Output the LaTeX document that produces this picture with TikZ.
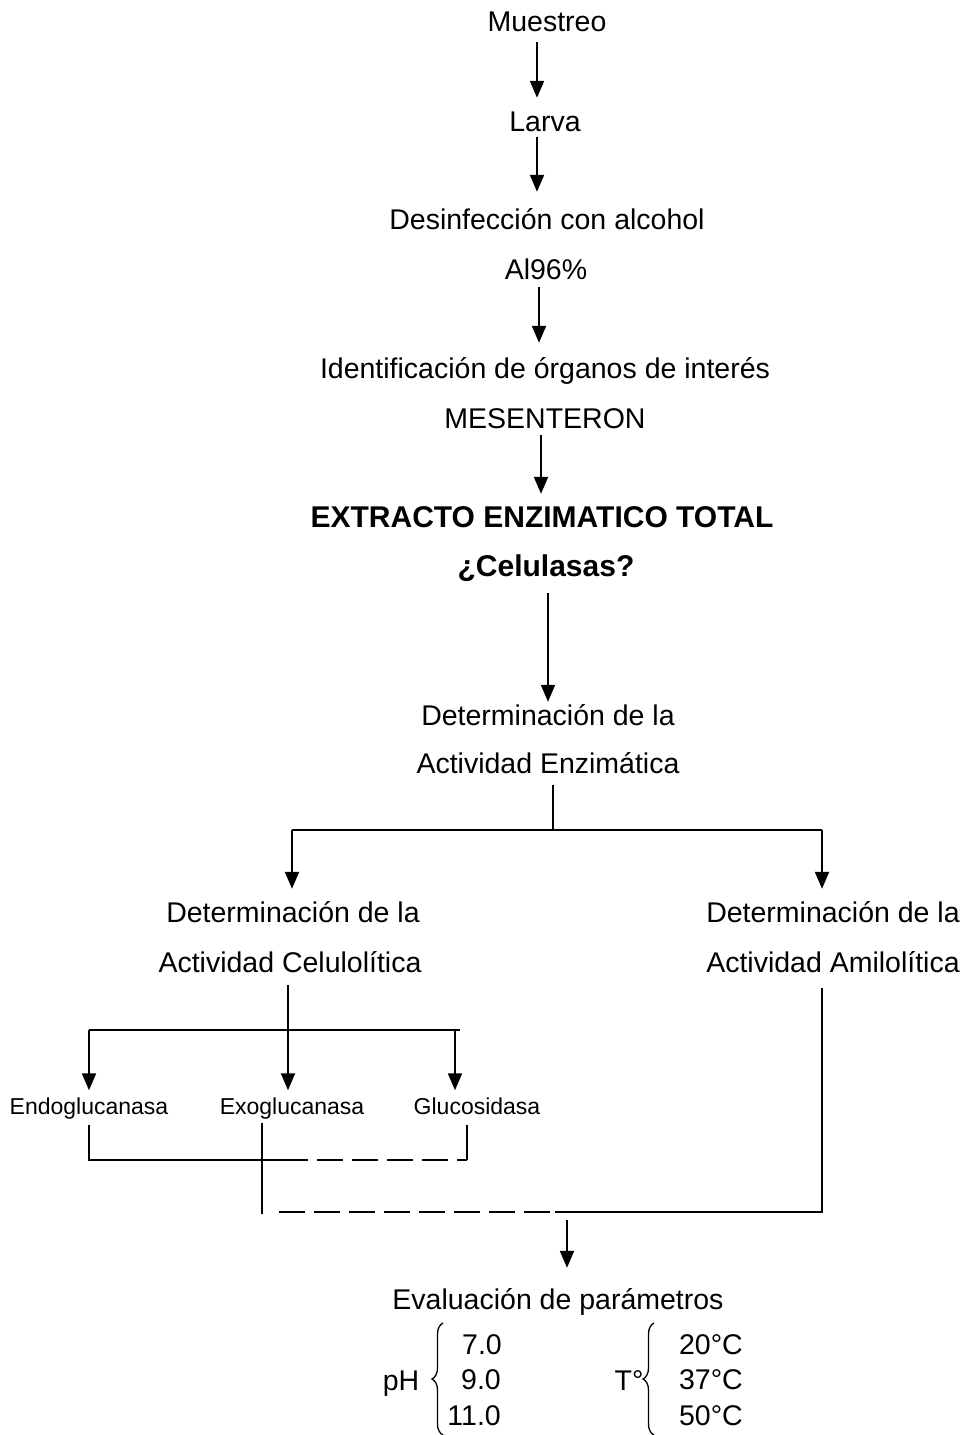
\documentclass[tikz,border=0pt]{standalone}
\usepackage{fontspec}
\setmainfont{Liberation Sans}
\usetikzlibrary{arrows.meta,decorations.pathreplacing}
\begin{document}
\begin{tikzpicture}[x=1pt,y=-1pt,
  lbl/.style={inner sep=0pt,text height=20pt,text depth=0pt,font=\fontsize{28.5}{31}\selectfont},
  bld/.style={lbl,font=\fontsize{30}{33}\selectfont\bfseries},
  sml/.style={inner sep=0pt,text height=15pt,text depth=0pt,font=\fontsize{23}{26}\selectfont},
  ln/.style={line width=2pt},
  arr/.style={ln,-{Triangle[length=17pt,width=14pt]}},
  dsh/.style={ln,dash pattern=on 26pt off 9pt},
  brc/.style={line width=1.3pt,decorate,decoration={brace,amplitude=11pt}}]
\path[use as bounding box] (0,0) rectangle (967,1435);

\node[lbl] (m) at (547,21) {Muestreo};
\node[lbl] (l) at (545,121) {Larva};
\node[lbl] (d) at (547,219) {Desinfección con alcohol};
\node[lbl] (a) at (546,269) {Al96\%};
\node[lbl] (i) at (545,368) {Identificación de órganos de interés};
\node[lbl] (me) at (545,418) {MESENTERON};
\node[bld] (e) at (542,517) {EXTRACTO ENZIMATICO TOTAL};
\node[bld] (c) at (546,566) {¿Celulasas?};
\node[lbl] (de1) at (548,715) {Determinación de la};
\node[lbl] (de2) at (548,763) {Actividad Enzimática};
\node[lbl] (dl1) at (293,912) {Determinación de la};
\node[lbl] (dl2) at (290,962) {Actividad Celulolítica};
\node[lbl] (dr1) at (833,912) {Determinación de la};
\node[lbl] (dr2) at (833,962) {Actividad Amilolítica};
\node[sml] (en) at (89,1107) {Endoglucanasa};
\node[sml] (ex) at (292,1107) {Exoglucanasa};
\node[sml] (gl) at (477,1107) {Glucosidasa};
\node[lbl] (ev) at (558,1299) {Evaluación de parámetros};
\node[lbl] (ph) at (401,1380) {pH};
\node[lbl,anchor=east] (p1) at (502,1344) {7.0};
\node[lbl,anchor=east] (p2) at (501,1379) {9.0};
\node[lbl,anchor=east] (p3) at (501,1415) {11.0};
\node[lbl] (t) at (629,1380) {T°};
\node[lbl,anchor=east] (t1) at (743,1344) {20°C};
\node[lbl,anchor=east] (t2) at (743,1379) {37°C};
\node[lbl,anchor=east] (t3) at (743,1415) {50°C};

% main chain
\draw[arr,shorten <=11pt,shorten >=13pt] (537,0 |- m.south) -- (537,0 |- l.north);
\draw[arr,shorten <=6pt,shorten >=17pt] (537,0 |- l.south) -- (537,0 |- d.north);
\draw[arr,shorten <=8pt,shorten >=15pt] (539,0 |- a.south) -- (539,0 |- i.north);
\draw[arr,shorten <=7pt,shorten >=13pt] (541,0 |- me.south) -- (541,0 |- e.north);
\draw[arr,shorten <=17pt,shorten >=3pt] (548,0 |- c.south) -- (548,0 |- de1.north);

% split 1
\coordinate (s0) at (553,830);
\coordinate (sl) at (292,830);
\coordinate (sr) at (822,830);
\draw[ln,shorten <=12pt] (553,0 |- de2.south) -- (s0);
\draw[ln] (sl) -- (sr);
\draw[arr,shorten >=13pt] (sl) -- (292,0 |- dl1.north);
\draw[arr,shorten >=13pt] (sr) -- (822,0 |- dr1.north);

% split 2
\coordinate (bl) at (89,1030);
\coordinate (br) at (460,1030);
\draw[ln] (bl) -- (br);
\draw[arr,shorten <=13pt,shorten >=9pt] (288,0 |- dl2.south) -- (288,0 |- ex.north);
\draw[arr,shorten >=9pt] (bl) -- (89,0 |- en.north);
\draw[arr,shorten >=9pt] (455,1030) -- (455,0 |- gl.north);

% join
\coordinate (j1) at (89,1160);
\coordinate (j2) at (282,1160);
\coordinate (j3) at (467,1160);
\coordinate (k0) at (262,1214);
\coordinate (k1) at (279,1212);
\coordinate (k2) at (555,1212);
\coordinate (k3) at (822,1212);
\coordinate (k4) at (567,1220);
\draw[ln,shorten <=10pt] (89,0 |- en.south) -- (j1) -- (j2);
\draw[dsh] (j2) -- (j3);
\draw[ln,shorten >=10pt] (j3) -- (467,0 |- gl.south);
\draw[ln,shorten <=8pt] (262,0 |- ex.south) -- (k0);
\draw[dsh] (k1) -- (k2);
\draw[ln,shorten >=16pt] (k2) -- (k3) -- (822,0 |- dr2.south);
\draw[arr,shorten >=21pt] (k4) -- (567,0 |- ev.north);

% braces
\draw[brc] (443,1435) -- (443,1323);
\draw[brc] (654,1435) -- (654,1323);
\end{tikzpicture}
\end{document}
